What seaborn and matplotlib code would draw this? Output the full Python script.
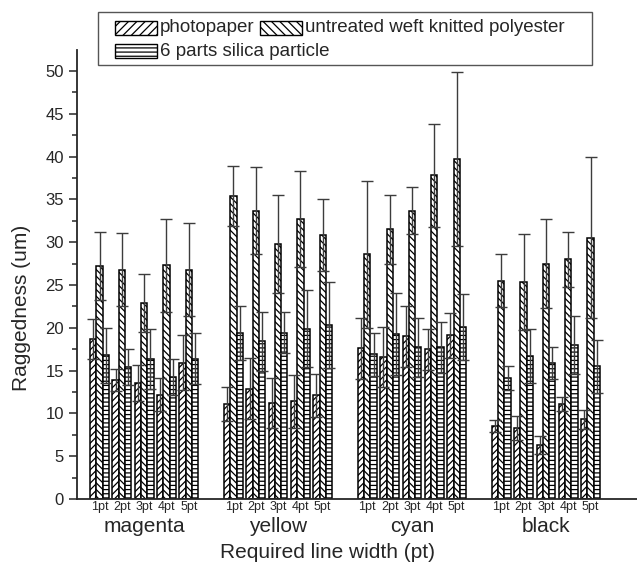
import matplotlib
matplotlib.use("Agg")
import matplotlib.pyplot as plt
import matplotlib.transforms as mtransforms
from matplotlib.patches import Rectangle
from matplotlib.ticker import MultipleLocator
import numpy as np
import pandas as pd
import seaborn as sns

colors_ink = ["magenta", "yellow", "cyan", "black"]
widths = ["1pt", "2pt", "3pt", "4pt", "5pt"]
series = ["photopaper", "untreated weft knitted polyester", "6 parts silica particle"]

photopaper = [18.7, 13.9, 13.6, 12.2, 15.9,
              11.1, 12.9, 11.2, 11.4, 12.1,
              17.6, 16.6, 19.0, 17.5, 19.1,
              8.5, 8.3, 6.3, 11.1, 9.3]
photopaper_err = [2.3, 1.3, 2.1, 1.9, 3.2,
                  2.0, 3.6, 2.9, 3.1, 2.5,
                  3.6, 3.5, 3.6, 2.4, 2.6,
                  0.7, 1.4, 1.1, 0.8, 1.1]
untreated = [27.2, 26.8, 22.9, 27.3, 26.8,
             35.4, 33.7, 29.8, 32.7, 30.8,
             28.6, 31.5, 33.7, 37.8, 39.7,
             25.5, 25.4, 27.5, 28.0, 30.5]
untreated_err = [4.0, 4.3, 3.4, 5.4, 5.4,
                 3.5, 5.1, 5.7, 5.6, 4.2,
                 8.6, 4.0, 2.8, 6.0, 10.2,
                 3.1, 5.6, 5.2, 3.2, 9.4]
silica = [16.8, 15.4, 16.4, 14.3, 16.4,
          19.4, 18.4, 19.4, 19.9, 20.3,
          16.9, 19.3, 17.7, 17.7, 20.1,
          14.1, 16.7, 15.9, 18.0, 15.5]
silica_err = [3.2, 2.1, 3.5, 2.1, 3.0,
              3.2, 3.5, 2.4, 4.5, 5.0,
              2.5, 4.8, 3.4, 3.0, 3.9,
              1.4, 3.2, 1.9, 3.4, 3.1]

values = [photopaper, untreated, silica]
errors = [photopaper_err, untreated_err, silica_err]

# numeric positions: 5 sub-groups per ink, a gap of one slot between inks
positions = [g * 6 + i for g in range(len(colors_ink)) for i in range(len(widths))]

rows = []
for s, vals in zip(series, values):
    for p, v in zip(positions, vals):
        rows.append({"pos": p, "value": v, "series": s})
df = pd.DataFrame(rows)

sns.set_style("ticks")
plt.rcParams["font.family"] = ["Liberation Sans", "DejaVu Sans"]
plt.rcParams["hatch.linewidth"] = 0.9

W, H = 637, 567
fig = plt.figure(figsize=(W / 100, H / 100), dpi=100)
ax = fig.add_axes([77 / W, 68 / H, (641 - 77) / W, 449 / H])

total_w = 0.84
sns.barplot(data=df, x="pos", y="value", hue="series", hue_order=series,
            native_scale=True, width=total_w, errorbar=None,
            palette={s: "white" for s in series}, ax=ax, legend=False,
            edgecolor="black", linewidth=1.1)

hatches = ["/////", "\\\\\\\\\\", "----"]
for cont, h in zip(ax.containers, hatches):
    for bar in cont:
        bar.set_hatch(h)
        bar.set_facecolor("white")
        bar.set_edgecolor("black")
        bar.set_linewidth(1.1)

bw = total_w / 3
for i, (vals, errs) in enumerate(zip(values, errors)):
    xs = np.array(positions) + (i - 1) * bw
    ax.errorbar(xs, vals, yerr=errs, fmt="none", ecolor="#3c3c3c",
                elinewidth=1.0, capsize=4.5, capthick=1.0, zorder=5)

ax.set_xlim(-1.01, 24.26)
ax.set_ylim(0, 52.45)
ax.yaxis.set_major_locator(MultipleLocator(5))
ax.yaxis.set_minor_locator(MultipleLocator(2.5))
ax.tick_params(axis="y", which="major", length=6, width=1.1, labelsize=12, direction="out")
ax.tick_params(axis="y", which="minor", length=3.5, width=1.1, direction="out")
ax.set_xticks(positions)
ax.set_xticklabels(widths * len(colors_ink), fontsize=9)
ax.tick_params(axis="x", length=0, pad=1.5)
for sp in ["top", "right"]:
    ax.spines[sp].set_visible(False)
ax.spines["left"].set_linewidth(1.3)
ax.spines["bottom"].set_linewidth(1.3)

ax.set_xlabel("")
ax.set_ylabel("Raggedness (um)", fontsize=15)
ax.yaxis.set_label_coords((31 - 77) / (641 - 77), (499 - 308) / 449)

trans = mtransforms.blended_transform_factory(ax.transData, fig.transFigure)
for g, name in enumerate(colors_ink):
    ax.text(g * 6 + 2, 1 - 526 / H, name, transform=trans, ha="center",
            va="center", fontsize=15)
fig.text(327 / W, 1 - 552 / H, "Required line width (pt)", ha="center",
         va="center", fontsize=15)

# legend drawn as a free-flowing box (two entries on row 1, one on row 2)
def fx(px):
    return px / W

def fy(py):
    return 1 - py / H

frame = Rectangle((fx(98), fy(65)), fx(592) - fx(98), fy(12.5) - fy(65),
                  transform=fig.transFigure, facecolor="white",
                  edgecolor="#555555", linewidth=1.0, zorder=10)
fig.patches.append(frame)
legend_items = [(series[0], hatches[0], 115, 28),
                (series[1], hatches[1], 260, 28),
                (series[2], hatches[2], 115, 51)]
for label, h, x0, yc in legend_items:
    hp = Rectangle((fx(x0), fy(yc + 7)), fx(42), 14 / H,
                   transform=fig.transFigure, facecolor="white",
                   edgecolor="black", hatch=h[:4], linewidth=1.0, zorder=11)
    fig.patches.append(hp)
    fig.text(fx(x0 + 45), fy(yc), label, ha="left", va="center",
             fontsize=13.5, zorder=12)

fig.savefig("out.png", dpi=100)
